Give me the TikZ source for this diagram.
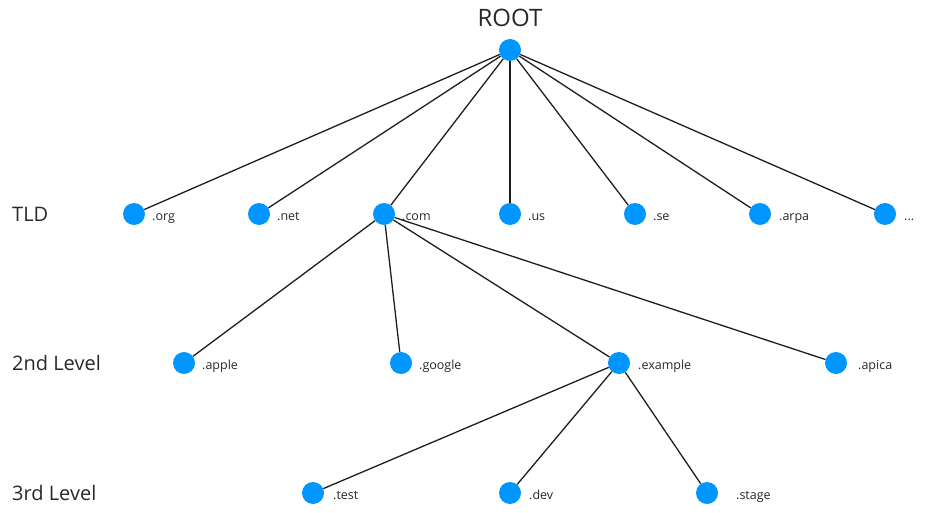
\documentclass[tikz,border=0pt]{standalone}
\usepackage{fontspec}
\setmainfont{Open Sans}
\definecolor{dotblue}{RGB}{0,150,255}
\definecolor{txt}{RGB}{40,40,40}
\definecolor{edge}{RGB}{30,30,30}
\begin{document}
\begin{tikzpicture}[x=1pt,y=-1pt,
  dot/.style={circle,fill=dotblue,draw=none,minimum size=22pt,inner sep=0pt},
  lbl/.style={anchor=base west,inner sep=0pt,text=txt,font=\fontsize{12.5}{14}\selectfont},
  lvl/.style={anchor=base west,inner sep=0pt,text=txt,font=\fontsize{20}{24}\selectfont},
  conn/.style={draw=edge,line width=1.3pt}]
\useasboundingbox (0,0) rectangle (937,513);
% titles
\node[inner sep=0pt,anchor=base,text=txt,font=\fontsize{24}{28}\selectfont] (roottxt) at (510,27) {ROOT};
\node[lvl] (tld) at (12,222) {TLD};
\node[lvl] (l2) at (12,370.5) {2nd Level};
\node[lvl] (l3) at (12,500) {3rd Level};
% dots
\node[dot] (root) at (510,50) {};
\node[dot] (org) at (134,214) {};
\node[dot] (net) at (259,214) {};
\node[dot] (com) at (384,214) {};
\node[dot] (us) at (510,214) {};
\node[dot] (se) at (635,214) {};
\node[dot] (arpa) at (760,214) {};
\node[dot] (more) at (885,214) {};
\node[dot] (apple) at (184,363) {};
\node[dot] (google) at (401,363) {};
\node[dot] (example) at (619,363) {};
\node[dot] (apica) at (836,363) {};
\node[dot] (test) at (313,493) {};
\node[dot] (dev) at (510,493) {};
\node[dot] (stage) at (707,493) {};
% labels
\node[lbl] (orgL) at (152,220.5) {.org};
\node[lbl] (netL) at (277,220.5) {.net};
\node[lbl] (comL) at (402,220.5) {.com};
\node[lbl] (usL) at (528,220.5) {.us};
\node[lbl] (seL) at (653,220.5) {.se};
\node[lbl] (arpaL) at (779,220.5) {.arpa};
\node[lbl] (moreL) at (904,220.5) {...};
\node[lbl] (appleL) at (202,369.5) {.apple};
\node[lbl] (googleL) at (419,369.5) {.google};
\node[lbl] (exampleL) at (638,369.5) {.example};
\node[lbl] (apicaL) at (858,369.5) {.apica};
\node[lbl] (testL) at (333,499.5) {.test};
\node[lbl] (devL) at (529,499.5) {.dev};
\node[lbl] (stageL) at (736,499.5) {.stage};
% connectors
\foreach \n in {org,net,com,us,se,arpa,more} \draw[conn] (root) -- (\n);
\foreach \n in {apple,google,example,apica} \draw[conn] (com) -- (\n);
\foreach \n in {test,dev,stage} \draw[conn] (example) -- (\n);
\end{tikzpicture}
\end{document}
